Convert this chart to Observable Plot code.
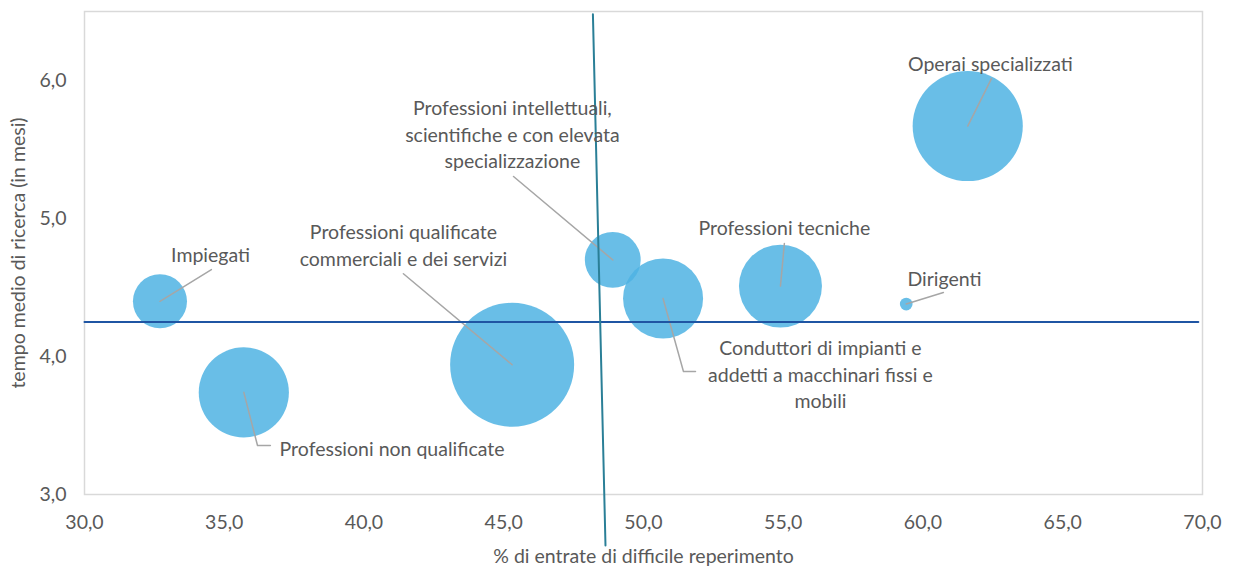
<!DOCTYPE html>
<html><head><meta charset="utf-8">
<script src="https://cdn.jsdelivr.net/npm/d3@7"></script>
<script src="https://cdn.jsdelivr.net/npm/@observablehq/plot@0.6"></script>
<style>
  html,body{margin:0;padding:0;background:#fff;}
  #chart svg{display:block;}
</style>
</head><body><div id="chart"></div>
<script>
// ---- data ----
const professioni = [
  "Impiegati",
  "Professioni non qualificate",
  "Professioni qualificate commerciali e dei servizi",
  "Professioni intellettuali, scientifiche e con elevata specializzazione",
  "Conduttori di impianti e addetti a macchinari fissi e mobili",
  "Professioni tecniche",
  "Dirigenti",
  "Operai specializzati"
];
const difficileReperimento = [32.7, 35.7, 45.3, 48.9, 50.7, 54.9, 59.4, 61.6]; // %
const tempoRicerca = [4.40, 3.74, 3.94, 4.70, 4.42, 4.51, 4.38, 5.67];        // mesi
const entrate = [73, 203, 384, 78, 160, 172, 4, 303];                          // bubble size
const xTicks = [30, 35, 40, 45, 50, 55, 60, 65, 70];
const yTicks = [3, 4, 5, 6];
const mediaTempo = 4.25;
const mediaTempoDa = 30, mediaTempoA = 69.85;
const lineaDifficile = [{x: 48.19, y: 6.48}, {x: 48.64, y: 2.63}];

// ---- annotation layout (label anchors, leader bends) ----
const etichette = [
  {text: "Impiegati", lx: 34.51, ly: 4.746, anchor: "middle", leader: [[34.54, 4.63]]},
  {text: "Professioni non qualificate", lx: 36.98, ly: 3.34, anchor: "start", leader: [[36.19, 3.355], [36.65, 3.355]]},
  {text: "Professioni qualificate\ncommerciali e dei servizi", lx: 41.41, ly: 4.815, anchor: "middle", leader: [[41.41, 4.60]]},
  {text: "Professioni intellettuali,\nscientifiche e con elevata\nspecializzazione", lx: 45.31, ly: 5.616, anchor: "middle", leader: [[45.35, 5.304]]},
  {text: "Conduttori di impianti e\naddetti a macchinari fissi e\nmobili", lx: 56.33, ly: 3.877, anchor: "middle", leader: [[51.43, 3.891], [51.86, 3.891]]},
  {text: "Professioni tecniche", lx: 55.04, ly: 4.942, anchor: "middle", leader: [[55.04, 4.819]]},
  {text: "Dirigenti", lx: 60.77, ly: 4.572, anchor: "middle", leader: [[60.73, 4.464]]},
  {text: "Operai specializzati", lx: 62.41, ly: 6.13, anchor: "middle", leader: [[62.45, 6.014]]}
];

const bubbles = professioni.map((p, i) => ({p, x: difficileReperimento[i], y: tempoRicerca[i], size: entrate[i]}));
const leaders = [];
etichette.forEach((e, i) => {
  leaders.push({z: i, x: difficileReperimento[i], y: tempoRicerca[i]});
  e.leader.forEach(([x, y]) => leaders.push({z: i, x, y}));
});
const fmt = d => d.toFixed(1).replace(".", ",");
const FONT = "Lato, 'Open Sans', sans-serif";
const TXT = "#595959";
const FS = 19.5;

const chart = Plot.plot({
  width: 1234, height: 567,
  marginLeft: 84, marginRight: 32, marginTop: 11, marginBottom: 73,
  style: {fontFamily: FONT, fontSize: FS + "px", color: TXT, background: "#fff"},
  x: {domain: [30, 70], axis: null},
  y: {domain: [3, 6.5], axis: null},
  r: {type: "sqrt", domain: [0, d3.max(entrate)], range: [0, 62]},
  marks: [
    Plot.frame({stroke: "#D9D9D9", strokeWidth: 1.5}),
    Plot.axisX({ticks: xTicks, tickSize: 0, tickPadding: 21, tickFormat: fmt, fontSize: FS, fill: TXT}),
    Plot.axisY({ticks: yTicks, tickSize: 0, tickPadding: 18, tickFormat: fmt, fontSize: FS, fill: TXT}),
    Plot.text(["% di entrate di difficile reperimento"], {frameAnchor: "bottom", textAnchor: "middle", lineAnchor: "middle", dy: 62, fontSize: FS, fill: TXT}),
    Plot.text(["tempo medio di ricerca (in mesi)"], {frameAnchor: "left", textAnchor: "middle", lineAnchor: "middle", dx: -66, rotate: -90, fontSize: FS, fill: TXT}),
    Plot.dot(bubbles, {x: "x", y: "y", r: "size", fill: "#4FB3E3", fillOpacity: 0.85, stroke: null}),
    Plot.line(leaders, {x: "x", y: "y", z: "z", stroke: "#A6A6A6", strokeWidth: 1.5, curve: "linear"}),
    Plot.line([{x: mediaTempoDa, y: mediaTempo}, {x: mediaTempoA, y: mediaTempo}], {x: "x", y: "y", stroke: "#1F55A3", strokeWidth: 2}),
    Plot.line(lineaDifficile, {x: "x", y: "y", stroke: "#2A7F97", strokeWidth: 2}),
    Plot.text(etichette.filter(e => e.anchor === "middle"), {x: "lx", y: "ly", text: "text", textAnchor: "middle", lineAnchor: "middle", lineHeight: 1.36, fontSize: FS, fill: TXT}),
    Plot.text(etichette.filter(e => e.anchor === "start"), {x: "lx", y: "ly", text: "text", textAnchor: "start", lineAnchor: "middle", lineHeight: 1.36, fontSize: FS, fill: TXT})
  ]
});
document.getElementById("chart").appendChild(chart);
</script>
</body></html>
